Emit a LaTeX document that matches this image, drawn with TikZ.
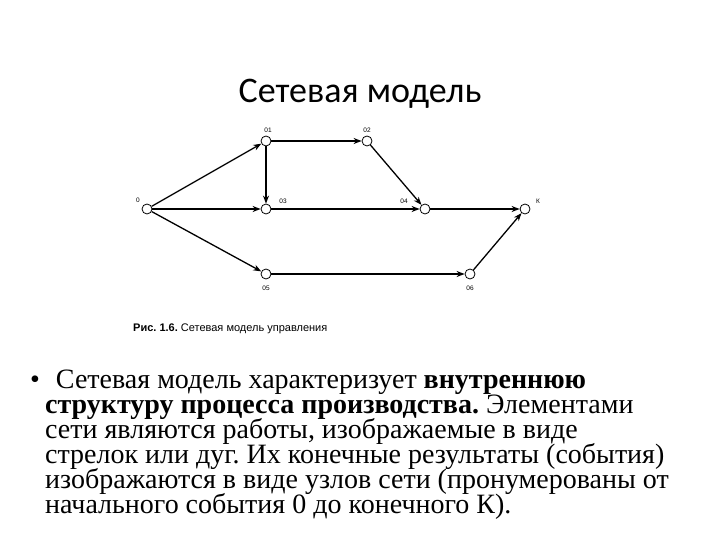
\documentclass[tikz,border=0pt]{standalone}
\usepackage{fontspec}
\setmainfont{Liberation Serif}
\newfontfamily\titlefont{Carlito}
\newfontfamily\capfont{Liberation Sans}
\usetikzlibrary{arrows.meta, calc}
\frenchspacing
\tikzset{
    my-event/.style={
      draw, shape=circle, thick, fill=white, minimum size=10pt, inner sep=0pt
    },
    my-work/.style={
      draw, line width=1.3pt, -{Stealth[length=8pt, width=6pt]}
    },
    my-tag/.style={
      font=\capfont\fontsize{6.5}{7}\selectfont, inner sep=0pt
    },
    my-line/.style={
      anchor=base west, inner sep=0pt, font=\fontsize{28}{25}\selectfont
    },
}

\begin{document}
\begin{tikzpicture}[x=1pt, y=-1pt]

        \useasboundingbox[fill=white] (0,0) rectangle (720,540);

        % TITLE
        \node[anchor=base, inner sep=0pt, font=\titlefont\fontsize{36}{40}\selectfont] (TITLE) at (360,103) {Сетевая модель};

        % EVENTS
        \node[my-event] (E0)  at (147,209) {};
        \node[my-event] (E01) at (266,141) {};
        \node[my-event] (E02) at (367,141) {};
        \node[my-event] (E03) at (266,209) {};
        \node[my-event] (E04) at (425,209) {};
        \node[my-event] (EK)  at (525,209) {};
        \node[my-event] (E05) at (266,274) {};
        \node[my-event] (E06) at (470,274) {};

        % LABELS
        \node[my-tag] (L0)  at ($(E0)  + (-9,-9)$)  {0};
        \node[my-tag] (L01) at ($(E01) + (2,-11)$)  {01};
        \node[my-tag] (L02) at ($(E02) + (0,-11)$)  {02};
        \node[my-tag] (L03) at ($(E03) + (17,-8)$)  {03};
        \node[my-tag] (L04) at ($(E04) + (-21,-8)$) {04};
        \node[my-tag] (LK)  at ($(EK)  + (13,-8)$)  {К};
        \node[my-tag] (L05) at ($(E05) + (0,14)$)   {05};
        \node[my-tag] (L06) at ($(E06) + (0,14)$)   {06};

        % WORKS
        \draw[my-work] (E0)  -- (E01);
        \draw[my-work] (E0)  -- (E03);
        \draw[my-work] (E0)  -- (E05);
        \draw[my-work] (E01) -- (E03);
        \draw[my-work] (E01) -- (E02);
        \draw[my-work] (E02) -- (E04);
        \draw[my-work] (E03) -- (E04);
        \draw[my-work] (E04) -- (EK);
        \draw[my-work] (E05) -- (E06);
        \draw[my-work] (E06) -- (EK);

        % CAPTION
        \node[anchor=base west, inner sep=0pt, font=\capfont\fontsize{11}{13}\selectfont] (CAP) at (133,331)
            {\textbf{Рис. 1.6.} Сетевая модель управления};

        % TEXT
        \node[my-line] (T1) at (30,388) {•\hspace{16pt}Сетевая модель характеризует \textbf{внутреннюю}};
        \node[my-line] (T2) at (45,413) {\textbf{структуру процесса производства.} Элементами};
        \node[my-line] (T3) at (45,438) {сети являются работы, изображаемые в виде};
        \node[my-line] (T4) at (45,463) {стрелок или дуг. Их конечные результаты (события)};
        \node[my-line] (T5) at (45,488) {изображаются в виде узлов сети (пронумерованы от};
        \node[my-line] (T6) at (45,513) {начального события 0 до конечного К).};

    \end{tikzpicture}
\end{document}
